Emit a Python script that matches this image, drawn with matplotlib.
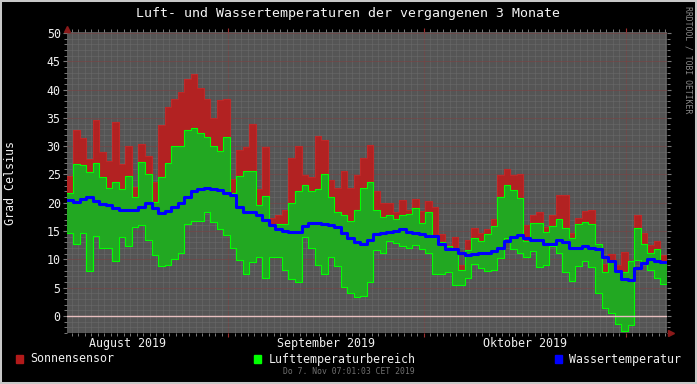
import numpy as np
import pandas as pd
import matplotlib
matplotlib.use("Agg")
import matplotlib.pyplot as plt
import matplotlib.dates as mdates
from matplotlib.patches import Rectangle
from matplotlib.lines import Line2D

# daily values, 7. Aug - 7. Nov 2019
sonne = [24.7, 32.9, 31.5, 27.7, 34.6, 29.0, 27.4, 34.3, 26.9, 30.0, 22.8, 30.4, 28.3, 23.6, 33.7, 36.9,
         38.3, 39.5, 41.9, 42.8, 40.3, 38.3, 34.9, 38.2, 38.3, 24.2, 29.4, 29.8, 33.9, 22.4, 29.8, 17.4, 17.9,
         18.8, 28.0, 30.0, 24.9, 24.5, 31.8, 31.1, 24.1, 22.7, 25.6, 22.7, 24.9, 28.0, 30.2, 22.1, 19.9,
         19.9, 18.4, 20.5, 18.8, 20.6, 18.5, 20.3, 19.2, 14.5, 12.5, 14.0, 9.0, 13.4, 15.5, 14.6, 15.4,
         17.1, 24.9, 25.9, 24.9, 25.1, 16.1, 17.8, 18.4, 15.8, 17.9, 21.3, 21.3, 14.7, 17.4, 18.6, 18.7,
         12.8, 9.2, 11.0, 9.0, 11.3, 9.7, 17.8, 14.6, 12.5, 13.2, 10.8]
luft_max = [21.8, 26.9, 26.7, 25.4, 27.0, 24.6, 22.7, 23.6, 22.5, 24.7, 21.1, 27.2, 25.0, 20.1, 24.6, 27.1,
            30.0, 30.0, 32.9, 33.3, 32.3, 31.6, 30.0, 29.2, 31.6, 21.7, 24.7, 25.7, 25.7, 19.6, 21.2, 16.0, 16.3,
            16.3, 19.9, 22.1, 23.1, 22.1, 22.5, 25.1, 21.1, 18.4, 17.8, 16.7, 18.8, 22.7, 23.6, 18.8, 17.5,
            17.8, 17.2, 17.8, 18.0, 19.1, 16.5, 18.4, 14.0, 13.0, 12.4, 12.1, 8.1, 11.7, 13.8, 13.2, 14.5,
            15.9, 21.0, 23.1, 22.2, 20.9, 13.2, 16.4, 16.4, 14.8, 15.9, 17.1, 15.6, 13.7, 16.3, 16.6, 16.2,
            12.8, 7.7, 9.7, 7.7, 7.7, 9.7, 15.5, 12.8, 11.2, 11.9, 9.5]
luft_min = [14.7, 12.7, 14.6, 7.9, 14.2, 12.1, 12.1, 9.8, 13.9, 12.4, 15.8, 16.0, 13.5, 10.7, 8.8, 9.0,
            10.1, 11.2, 16.3, 16.7, 16.7, 18.4, 16.6, 15.4, 14.4, 12.1, 9.9, 7.4, 9.5, 10.4, 6.7, 10.5, 10.5,
            8.2, 6.6, 6.0, 14.0, 12.1, 9.0, 7.5, 10.4, 8.8, 5.2, 4.0, 3.3, 3.6, 6.0, 11.7, 11.2,
            13.2, 12.9, 12.4, 12.1, 12.5, 11.9, 11.2, 7.4, 7.5, 7.7, 5.4, 5.4, 6.7, 9.2, 8.4, 7.9,
            8.2, 10.2, 13.8, 11.8, 11.1, 10.4, 11.5, 8.6, 9.0, 12.4, 11.2, 7.7, 6.2, 8.9, 9.7, 8.6,
            4.0, 1.5, 0.5, -1.4, -2.7, -1.6, 9.9, 9.3, 8.2, 6.7, 5.7]
wasser = [20.5, 20.1, 20.7, 21.1, 20.3, 19.8, 19.6, 19.0, 18.8, 18.8, 18.7, 19.3, 19.9, 19.0, 18.2, 18.6,
          19.3, 19.9, 21.1, 22.0, 22.4, 22.6, 22.4, 22.2, 21.8, 21.4, 19.3, 18.4, 18.4, 17.8, 16.9, 16.1, 15.4,
          15.1, 14.8, 14.8, 15.9, 16.5, 16.4, 16.2, 16.0, 15.8, 14.7, 13.7, 13.0, 12.7, 13.4, 14.5, 14.6,
          14.9, 15.1, 15.3, 14.9, 14.7, 14.5, 14.1, 14.1, 12.8, 11.9, 11.8, 11.1, 10.7, 11.0, 11.2, 11.2,
          11.4, 12.0, 13.2, 13.9, 14.3, 13.8, 13.4, 13.4, 12.7, 12.8, 13.4, 13.0, 12.1, 12.1, 12.4, 12.1,
          11.9, 10.4, 9.7, 7.9, 6.5, 6.3, 8.4, 9.4, 10.0, 9.7, 9.5]

monate = ["August 2019", "September 2019", "Oktober 2019"]
monat_mitte = ["2019-08-16 12:00", "2019-09-16 00:00", "2019-10-16 12:00"]

start = pd.Timestamp("2019-08-07 07:01")
ende = pd.Timestamp("2019-11-07 07:01")
tage = pd.date_range("2019-08-07 06:00", periods=len(sonne) + 1, freq="D")
x = mdates.date2num(tage)

def ext(v):
    v = np.array(v, dtype=float)
    return np.append(v, v[-1])

s = ext(sonne)
hi = ext(luft_max)
lo = ext(luft_min)
w = ext(wasser)
rot_top = np.maximum(s, hi)

fig = plt.figure(figsize=(6.97, 3.84), dpi=100, facecolor="black")
ax = fig.add_axes([67/697, 51/384, 600/697, 300.7/384])
ax.set_facecolor("#555555")

ax.fill_between(x, hi, rot_top, step="post", color="#b22222", lw=0, zorder=2)
ax.step(x, rot_top, where="post", color="#c02828", lw=0.8, zorder=2)
ax.fill_between(x, lo, hi, step="post", color="#22a822", lw=0, zorder=3)
ax.step(x, hi, where="post", color="#00ff00", lw=0.8, zorder=4)
ax.step(x, lo, where="post", color="#00ff00", lw=0.8, zorder=4)
ax.axhline(0, color="#e8c0c0", lw=1.0, zorder=5)
ax.step(x, w, where="post", color="#0000ff", lw=2.2, zorder=6)

ax.set_xlim(mdates.date2num(start), mdates.date2num(ende))
ax.set_ylim(-3, 50.12)

ax.yaxis.set_major_locator(plt.MultipleLocator(5))
ax.yaxis.set_minor_locator(plt.MultipleLocator(1))
ax.yaxis.set_major_formatter(plt.FuncFormatter(lambda v, p: "%d" % v if v >= 0 else ""))
ax.xaxis.set_major_locator(mdates.MonthLocator())
ax.xaxis.set_minor_locator(mdates.DayLocator())
ax.xaxis.set_major_formatter(plt.NullFormatter())

ax.set_axisbelow(True)
ax.grid(which="minor", color="#6c6c6c", lw=0.72, ls=(0, (1, 1)))
ax.grid(which="major", color="#824040", lw=0.72, ls=(0, (1, 1)))
for sp in ax.spines.values():
    sp.set_visible(False)

ax.tick_params(which="both", direction="out", color="#7a7a7a", labelcolor="#f0f0f0",
               top=True, right=True, labelsize=8.4, pad=1.5)
ax.tick_params(which="major", length=3, width=0.8)
ax.tick_params(which="minor", length=2, width=0.7)
ax.tick_params(axis="x", which="major", color="#a03030")
for t in ax.get_yticklabels():
    t.set_fontfamily("DejaVu Sans Mono")

for lab, d in zip(monate, monat_mitte):
    ax.text(mdates.date2num(pd.Timestamp(d)), -0.012, lab, transform=ax.get_xaxis_transform(),
            ha="center", va="top", color="#f0f0f0", fontsize=8.4, family="DejaVu Sans Mono")

mono = "DejaVu Sans Mono"
fig.text(0.5, 1 - 14/384, "Luft- und Wassertemperaturen der vergangenen 3 Monate",
         ha="center", va="center", color="#f4f4f4", fontsize=9.5, family=mono)
fig.text(10.5/697, 1 - 182.5/384, "Grad Celsius", rotation=90, ha="center", va="center",
         color="#f0f0f0", fontsize=8.4, family=mono)
fig.text(688/697, 1 - 60/384, "RRDTOOL / TOBI OETIKER", rotation=270, ha="center", va="center",
         color="#8a8a8a", fontsize=5.9, family=mono)
fig.text(349/697, 12/384, "Do 7. Nov 07:01:03 CET 2019", ha="center", va="center",
         color="#707070", fontsize=5.9, family=mono)

legende = [("Sonnensensor", "#b21a1a", 16, 30.7), ("Lufttemperaturbereich", "#00ff00", 254.3, 268.3),
           ("Wassertemperatur", "#0000ff", 555, 569)]
for name, col, bx, tx in legende:
    fig.patches.append(Rectangle((bx/697, (384-362.7)/384), 7/697, 7.7/384, transform=fig.transFigure,
                                 color=col, figure=fig))
    fig.text(tx/697, (384-359)/384, name, ha="left", va="center", color="#f0f0f0",
             fontsize=8.4, family=mono)

# arrows at axis ends
fig.add_artist(Line2D([67/697], [1 - 28.5/384], marker="^", ms=5, color="#8b1a1a", mec="#8b1a1a",
                      transform=fig.transFigure))
fig.add_artist(Line2D([671/697], [1 - 332.5/384], marker=">", ms=5, color="#8b1a1a", mec="#8b1a1a",
                      transform=fig.transFigure))

fig.patches.append(Rectangle((0, 0), 1, 1, transform=fig.transFigure, fill=False,
                             edgecolor="#c8c8c8", lw=2.9, figure=fig))

fig.savefig("out.png", dpi=100, facecolor="black")
